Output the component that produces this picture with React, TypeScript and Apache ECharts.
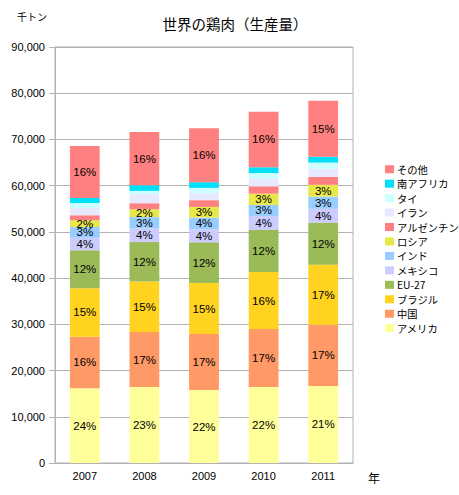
import React, { useEffect, useRef } from "react";
import * as echarts from "echarts";

const years = ["2007", "2008", "2009", "2010", "2011"];
const usa = [16160, 16440, 15790, 16440, 16660];
const china = [11170, 11900, 12120, 12550, 13260];
const brazil = [10470, 10950, 11030, 12330, 12950];
const eu27 = [8220, 8500, 8810, 9090, 9150];
const mexico = [2730, 2960, 2810, 3030, 2970];
const india = [2310, 2450, 2550, 2380, 2660];
const russia = [1450, 1700, 2300, 2450, 2530];
const argentina = [1080, 1300, 1450, 1600, 1730];
const iran = [1580, 1950, 1510, 1570, 1730];
const thailand = [1080, 720, 1150, 1300, 1360];
const southAfrica = [1080, 1230, 1230, 1240, 1230];
const others = [11250, 11530, 11680, 12030, 12120];
const yTicks = [0, 10000, 20000, 30000, 40000, 50000, 60000, 70000, 80000, 90000];

const seriesDefs = [
  { name: "アメリカ", data: usa, color: "#FFFF99", label: true },
  { name: "中国", data: china, color: "#FF9966", label: true },
  { name: "ブラジル", data: brazil, color: "#FFD320", label: true },
  { name: "EU-27", data: eu27, color: "#9BBB59", label: true },
  { name: "メキシコ", data: mexico, color: "#CCCCFF", label: true },
  { name: "インド", data: india, color: "#99CCFF", label: true },
  { name: "ロシア", data: russia, color: "#E8E84A", label: true },
  { name: "アルゼンチン", data: argentina, color: "#FF8080", label: false },
  { name: "イラン", data: iran, color: "#E8E8FF", label: false },
  { name: "タイ", data: thailand, color: "#CCFFFF", label: false },
  { name: "南アフリカ", data: southAfrica, color: "#00E0F8", label: false },
  { name: "その他", data: others, color: "#FF8080", label: true },
];

export default function App() {
  const ref = useRef<HTMLDivElement>(null);
  useEffect(() => {
    if (!ref.current) return;
    const chart = echarts.init(ref.current, null, { renderer: "svg" });
    const totals = years.map((_, i) =>
      seriesDefs.reduce((s, d) => s + d.data[i], 0)
    );
    const font = "'Liberation Sans', Arial, sans-serif";
    const jp = "'Noto Sans CJK JP', sans-serif";
    chart.setOption({
      animation: false,
      backgroundColor: "#ffffff",
      title: {
        text: "世界の鶏肉（生産量）",
        left: 230,
        top: 11,
        textAlign: "center",
        textStyle: { fontFamily: jp, fontSize: 14.5, fontWeight: "normal", color: "#000" },
      },
      graphic: [
        {
          type: "text",
          left: 17,
          top: 11,
          style: { text: "千トン", font: `10px ${jp}`, fill: "#000" },
        },
        {
          type: "text",
          left: 368,
          top: 471,
          style: { text: "年", font: `12px ${jp}`, fill: "#000" },
        },
      ],
      legend: {
        orient: "vertical",
        left: 380,
        top: 157,
        itemWidth: 9,
        itemHeight: 8,
        itemGap: 0,
        icon: "rect",
        data: seriesDefs.map((d) => d.name).reverse(),
        textStyle: { fontFamily: jp, fontSize: 10.3, color: "#000", lineHeight: 14.45, padding: [0, 0, 0, -2] },
      },
      grid: {
        left: 55,
        top: 47,
        width: 298,
        height: 416,
        show: true,
        borderColor: "#B3B3B3",
        borderWidth: 1,
        backgroundColor: "transparent",
      },
      xAxis: {
        type: "category",
        data: years,
        axisLine: { lineStyle: { color: "#B3B3B3" } },
        axisTick: { length: 5, lineStyle: { color: "#B3B3B3" } },
        axisLabel: { fontFamily: font, fontSize: 11, color: "#000", margin: 7 },
      },
      yAxis: {
        type: "value",
        min: yTicks[0],
        max: yTicks[yTicks.length - 1],
        interval: yTicks[1] - yTicks[0],
        axisLine: { show: true, lineStyle: { color: "#B3B3B3" } },
        axisTick: { show: true, length: 6, lineStyle: { color: "#B3B3B3" } },
        splitLine: { lineStyle: { color: "#B3B3B3" } },
        axisLabel: {
          fontFamily: font,
          fontSize: 11,
          color: "#000",
          margin: 10,
          formatter: (v: number) => v.toLocaleString("en-US"),
        },
      },
      series: seriesDefs.map((d) => ({
        name: d.name,
        type: "bar",
        stack: "total",
        barWidth: "50%",
        data: d.data,
        itemStyle: { color: d.color },
        label: {
          show: d.label,
          position: "inside",
          fontFamily: font,
          fontSize: 11.5,
          color: "#000",
          formatter: (p: any) => Math.round((p.value / totals[p.dataIndex]) * 100) + "%",
        },
      })),
    });
    return () => chart.dispose();
  }, []);
  return (
    <div
      ref={ref}
      style={{ position: "absolute", left: 0, top: 0, width: 459, height: 495 }}
    />
  );
}
